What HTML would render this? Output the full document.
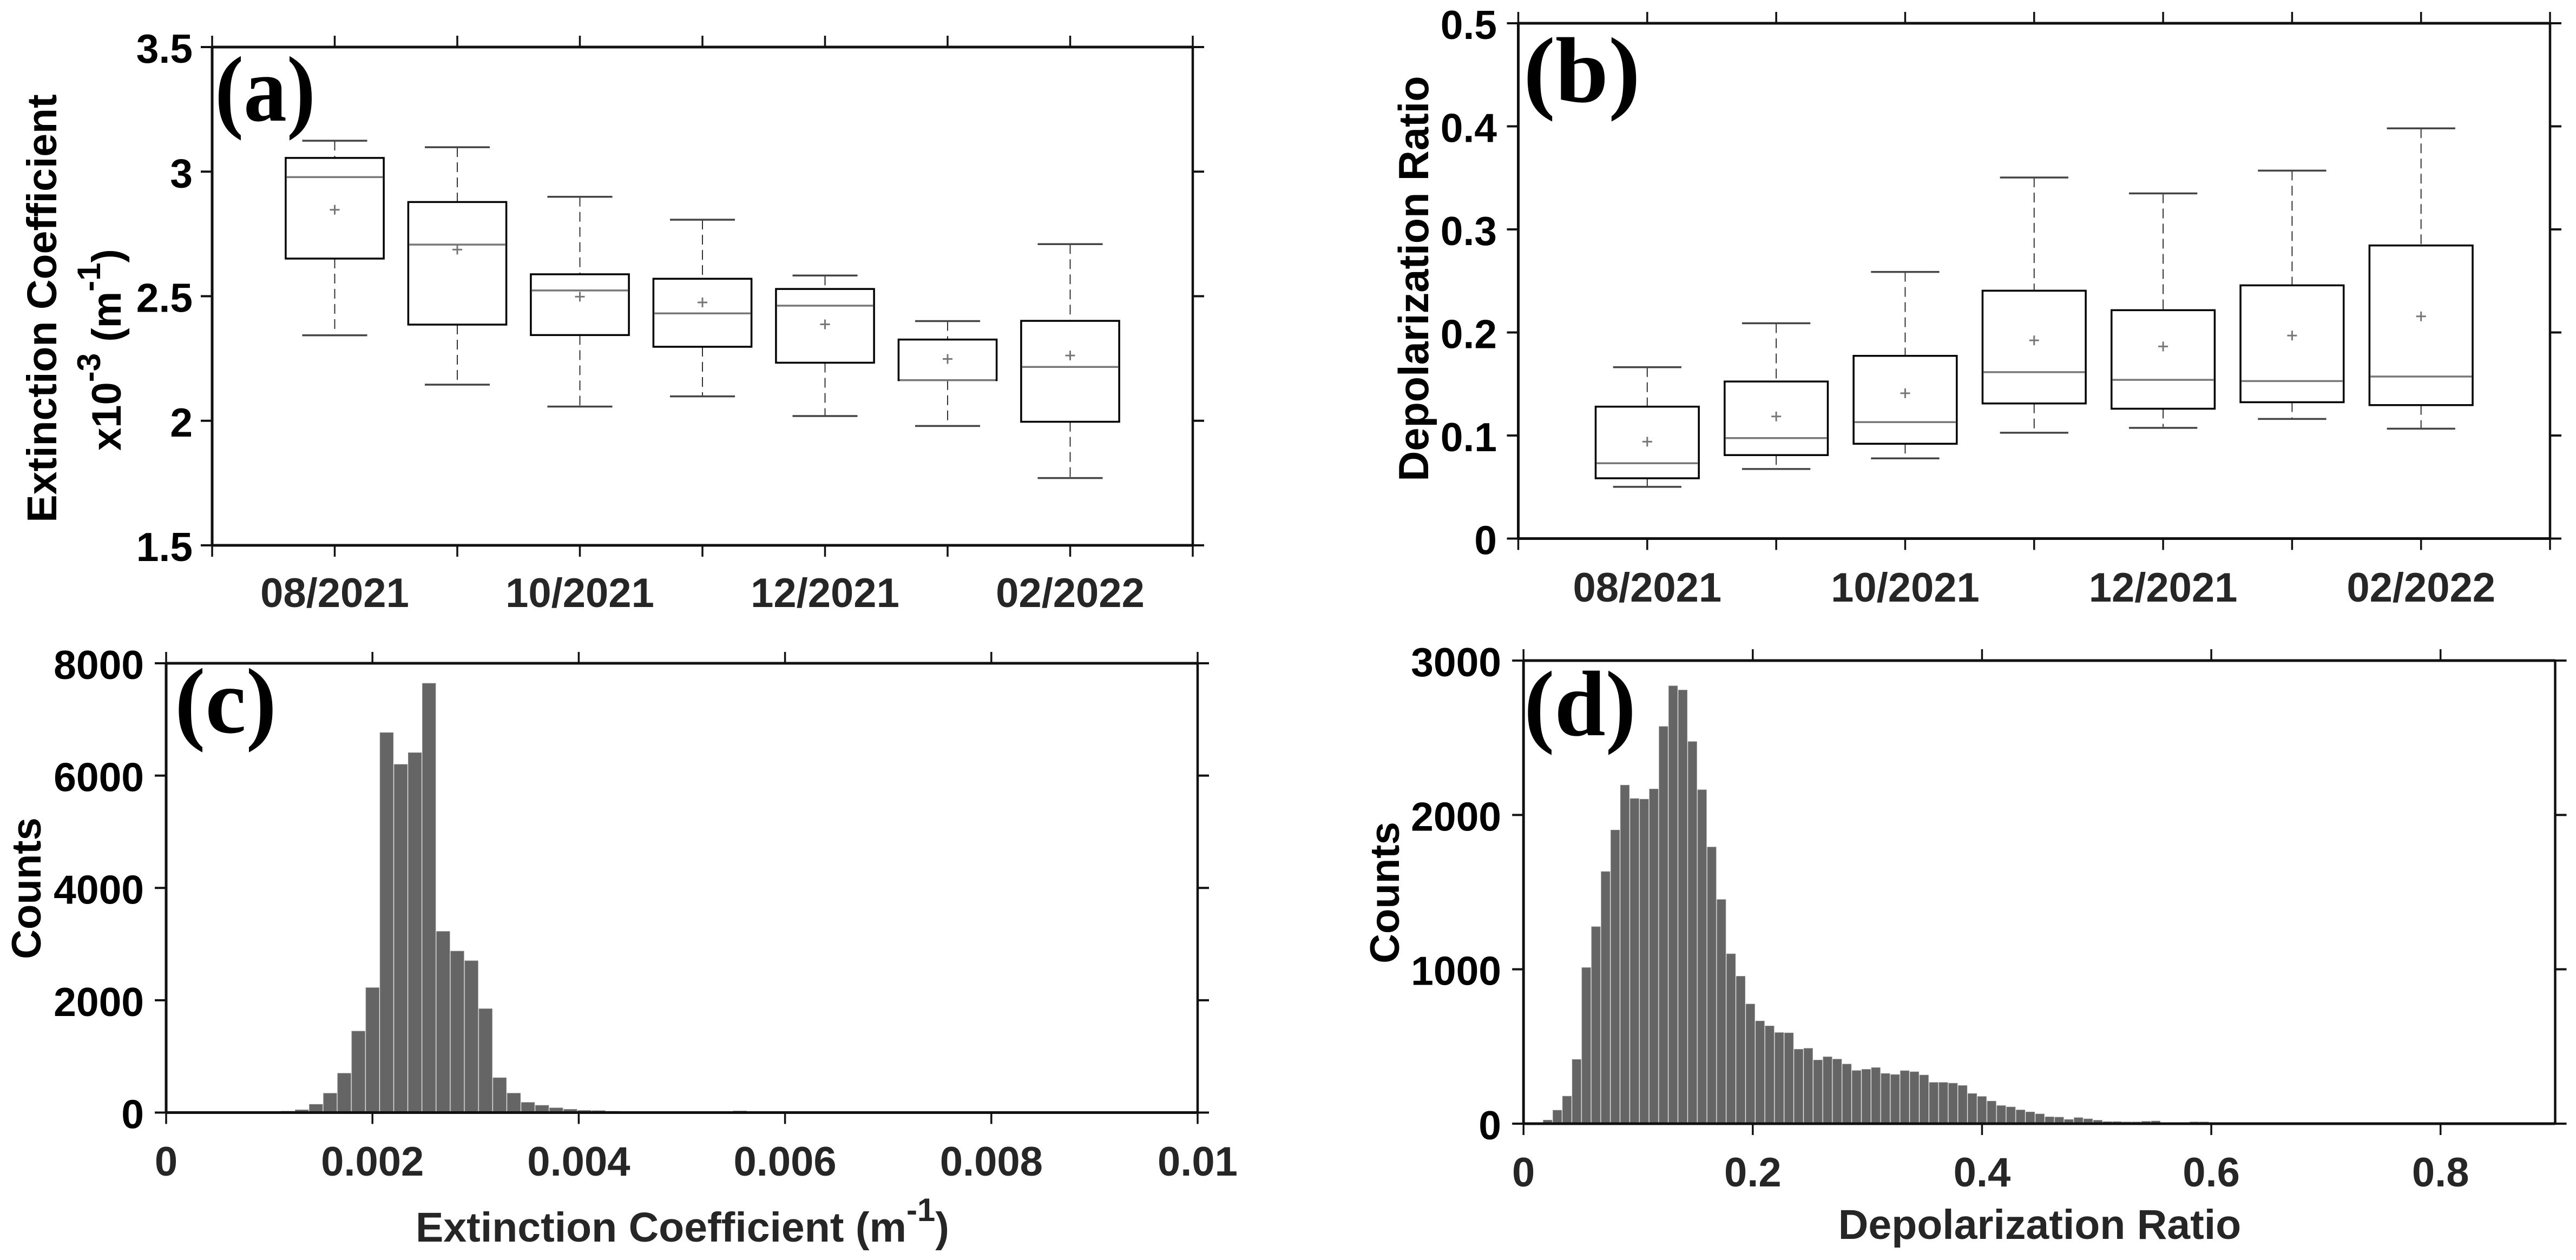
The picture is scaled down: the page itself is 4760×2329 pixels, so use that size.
<!DOCTYPE html>
<html lang="en">
<head>
<meta charset="utf-8">
<title>Extinction coefficient and depolarization ratio</title>
<style>
html,body{margin:0;padding:0;background:#fff;width:4760px;height:2329px;overflow:hidden}
svg{display:block}
text{font-family:"Liberation Sans",Arial,sans-serif;font-weight:700}
</style>
</head>
<body>
<svg id="figure" xmlns="http://www.w3.org/2000/svg" width="4760" height="2329" viewBox="0 0 4760 2329"></svg>
<script>
// Shared monthly categories and tick labels
const monthTicks = [0,1,2,3,4,5,6,7,8];
const monthLabels = ["","08/2021","","10/2021","","12/2021","","02/2022",""];

// Panel (a) extinction coefficient box plot
const aUpperCap = [3.124,3.098,2.899,2.807,2.583,2.400,2.709];
const aQ3       = [3.055,2.878,2.588,2.570,2.529,2.326,2.401];
const aMedian   = [2.978,2.707,2.523,2.431,2.462,2.163,2.216];
const aMean     = [2.847,2.687,2.498,2.475,2.387,2.248,2.262];
const aQ1       = [2.651,2.386,2.344,2.297,2.233,2.163,1.996];
const aLowerCap = [2.343,2.145,2.057,2.098,2.019,1.979,1.770];
const aYTicks   = [1.5,2,2.5,3,3.5];
const aYLabels  = ["1.5","2","2.5","3","3.5"];

// Panel (b) depolarization ratio box plot
const bUpperCap = [0.1663,0.2089,0.2587,0.3503,0.3349,0.3570,0.3980];
const bQ3       = [0.1280,0.1524,0.1773,0.2405,0.2216,0.2457,0.2844];
const bMedian   = [0.0731,0.0975,0.1130,0.1615,0.1540,0.1528,0.1572];
const bMean     = [0.0940,0.1185,0.1410,0.1923,0.1864,0.1970,0.2156];
const bQ1       = [0.0585,0.0810,0.0920,0.1311,0.1260,0.1323,0.1295];
const bLowerCap = [0.0502,0.0675,0.0778,0.1027,0.1074,0.1161,0.1066];
const bYTicks   = [0,0.1,0.2,0.3,0.4,0.5];
const bYLabels  = ["0","0.1","0.2","0.3","0.4","0.5"];

// Panel (c) extinction coefficient histogram
const cBinStart = 0.000014;
const cBinWidth = 0.000137;
const cCounts = [0,0,0,0,2,4,6,12,25,49,147,344,700,1450,2224,6765,6200,6408,7643,3226,2875,2703,1849,620,345,181,129,84,58,39,35,23,10,13,19,19,10,16,16,16,29,15,6,4,4,3,4,3,3,4,3,3,2,3,3,2,3,2,2,3,2,2,2,2,3,2,2,2,2,2,2,2];
const cXTicks = [0,0.002,0.004,0.006,0.008,0.01];
const cXLabels = ["0","0.002","0.004","0.006","0.008","0.01"];
const cYTicks = [0,2000,4000,6000,8000];
const cYLabels = ["0","2000","4000","6000","8000"];

// Panel (d) depolarization ratio histogram
const dBinStart = 0;
const dBinWidth = 0.00842;
const dCounts = [2,6,23,87,178,416,1011,1276,1633,1902,2193,2106,2102,2168,2573,2836,2809,2475,2163,1792,1452,1100,955,775,665,633,590,588,482,488,412,433,418,386,344,352,363,325,318,343,336,315,267,267,262,247,195,176,146,117,108,89,76,63,44,42,27,39,31,22,13,13,11,11,15,17,7,6,6,11,11,7,6,6,7,5,4,3,5,3,3,4,3,2,3,3,2,2,2,1,2,2,1,2,1,1,2,1,1,1,1,1,1,1];
const dXTicks = [0,0.2,0.4,0.6,0.8];
const dXLabels = ["0","0.2","0.4","0.6","0.8"];
const dYTicks = [0,1000,2000,3000];
const dYLabels = ["0","1000","2000","3000"];

const NS = "http://www.w3.org/2000/svg";
const fig = document.getElementById("figure");

function make(tag, attrs, parent){
  const node = document.createElementNS(NS, tag);
  for (const k in attrs) node.setAttribute(k, attrs[k]);
  (parent || fig).appendChild(node);
  return node;
}
function scale(d0, d1, r0, r1){
  return function(v){ return r0 + (v - d0) / (d1 - d0) * (r1 - r0); };
}

function drawFrame(g, box, xs, ys, xVals, xLabs, yVals, yLabs, xBase, yRight){
  const lines = [
    [box.l, box.t, box.r, box.t, 5, "top-axis-line"],
    [box.l, box.b, box.r, box.b, 5, "bottom-axis-line"],
    [box.l, box.t, box.l, box.b, 5, "left-axis-line"],
    [box.r, box.t, box.r, box.b, 4.5, "right-axis-line"]
  ];
  lines.forEach(function(a){
    const ln = make("line", {x1:a[0],y1:a[1],x2:a[2],y2:a[3],stroke:"#111","stroke-width":a[4]}, g);
    
    
  });
  xVals.forEach(function(v, i){
    const x = xs(v);
    const top = make("line", {x1:x,y1:box.t-21,x2:x,y2:box.t,stroke:"#111","stroke-width":3.5}, g);
    
    
    const bot = make("line", {x1:x,y1:box.b,x2:x,y2:box.b+21,stroke:"#111","stroke-width":3.5}, g);
    
    
    if (xLabs[i]) {
      const t = make("text", {x:x,y:xBase,"font-size":76,"text-anchor":"middle",fill:"#262626"}, g);
      t.textContent = xLabs[i];
      
      
    }
  });
  yVals.forEach(function(v, i){
    const y = ys(v);
    const lt = make("line", {x1:box.l-21,y1:y,x2:box.l,y2:y,stroke:"#111","stroke-width":4}, g);
    
    
    const rt = make("line", {x1:box.r,y1:y,x2:box.r+21,y2:y,stroke:"#111","stroke-width":4}, g);
    
    
    const t = make("text", {x:yRight,y:y+29,"font-size":75,"text-anchor":"end",fill:"#000"}, g);
    t.textContent = yLabs[i];
    
    
  });
}

function drawBoxes(g, xs, ys, up, q3, med, mean, q1, low){
  const halfBox = (xs(1) - xs(0)) * 0.4;
  const halfCap = (xs(1) - xs(0)) * 0.265;
  up.forEach(function(_, i){
    const x = xs(i + 1);
    const series = make("g", {}, g);
    
    
    const w1 = make("line", {x1:x,y1:ys(up[i]),x2:x,y2:ys(q3[i]),stroke:"#333","stroke-width":2,"stroke-dasharray":"18 10"}, series);
    
    
    const w2 = make("line", {x1:x,y1:ys(q1[i]),x2:x,y2:ys(low[i]),stroke:"#333","stroke-width":2,"stroke-dasharray":"18 10"}, series);
    
    
    const c1 = make("line", {x1:x-halfCap,y1:ys(up[i]),x2:x+halfCap,y2:ys(up[i]),stroke:"#444","stroke-width":3.5}, series);
    
    
    const c2 = make("line", {x1:x-halfCap,y1:ys(low[i]),x2:x+halfCap,y2:ys(low[i]),stroke:"#444","stroke-width":3.5}, series);
    
    
    const r = make("rect", {x:x-halfBox,y:ys(q3[i]),width:halfBox*2,height:ys(q1[i])-ys(q3[i]),fill:"#fff",stroke:"#000","stroke-width":3.5}, series);
    
    
    const m = make("line", {x1:x-halfBox+2,y1:ys(med[i]),x2:x+halfBox-2,y2:ys(med[i]),stroke:"#777","stroke-width":3.5}, series);
    
    
    const py = ys(mean[i]);
    const p1 = make("line", {x1:x-9,y1:py,x2:x+9,y2:py,stroke:"#777","stroke-width":3}, series);
    
    
    const p2 = make("line", {x1:x,y1:py-9,x2:x,y2:py+9,stroke:"#777","stroke-width":3}, series);
    
    
  });
}
function monthSeriesName(i){
  return "month-" + (i + 1);
}

function drawHist(g, xs, ys, counts, start, width){
  counts.forEach(function(c, i){
    const x0 = xs(start + i * width);
    const x1 = xs(start + (i + 1) * width);
    const y = ys(c);
    const r = make("rect", {x:x0+0.8,y:y,width:x1-x0-1.6,height:ys(0)-y,fill:"#656565",stroke:"#8a8a8a","stroke-width":0.8}, g);
    
    
  });
}

function panelLabel(g, str, x, y, len){
  const t = make("text", {x:x,y:y,"font-size":172,textLength:len,lengthAdjust:"spacingAndGlyphs",fill:"#000",style:"font-family:'Liberation Serif','Times New Roman',serif;font-weight:700"}, g);
  t.textContent = str;
  
  
}

function rotatedTitle(g, str, x, y, size, name){
  const t = make("text", {x:0,y:0,transform:"translate("+x+","+y+") rotate(-90)","font-size":size,"text-anchor":"middle",fill:"#000"}, g);
  t.textContent = str;
  
  
  return t;
}

function tspan(parent, str, size, dy){
  const s = make("tspan", {"font-size":size,dy:dy}, parent);
  s.textContent = str;
  
  
  return s;
}

/* Panel a */
(function(){
  const box = {l:392,r:2204,t:87,b:1008};
  const g = make("g", {});
  
  
  const xs = scale(0, 8, box.l, box.r);
  const ys = scale(1.5, 3.5, box.b, box.t);
  drawBoxes(g, xs, ys, aUpperCap, aQ3, aMedian, aMean, aQ1, aLowerCap);
  drawFrame(g, box, xs, ys, monthTicks, monthLabels, aYTicks, aYLabels, 1122, 356);
  panelLabel(g, "(a)", 397, 223, 186);
  rotatedTitle(g, "Extinction Coefficient", 104, 570, 77, "y-axis-title");
  const t = make("text", {transform:"translate(223,833) rotate(-90)",x:0,y:0,"font-size":76,fill:"#000"}, g);
  
  
  tspan(t, "x10", 76, 0);
  tspan(t, "-3", 60, -38);
  tspan(t, " (m", 76, 38);
  tspan(t, "-1", 60, -38);
  tspan(t, ")", 76, 38);
})();

/* Panel b */
(function(){
  const box = {l:2805.5,r:4712,t:43,b:995.5};
  const g = make("g", {});
  
  
  const xs = scale(0, 8, box.l, box.r);
  const ys = scale(0, 0.5, box.b, box.t);
  drawBoxes(g, xs, ys, bUpperCap, bQ3, bMedian, bMean, bQ1, bLowerCap);
  drawFrame(g, box, xs, ys, monthTicks, monthLabels, bYTicks, bYLabels, 1112, 2766);
  panelLabel(g, "(b)", 2815, 188, 216);
  rotatedTitle(g, "Depolarization Ratio", 2639, 515, 77.5, "y-axis-title");
})();

/* Panel c */
(function(){
  const box = {l:307,r:2213,t:1226,b:2056.5};
  const g = make("g", {});
  
  
  const xs = scale(0, 0.01, box.l, box.r);
  const ys = scale(0, 8000, box.b, box.t);
  drawHist(g, xs, ys, cCounts, cBinStart, cBinWidth);
  drawFrame(g, box, xs, ys, cXTicks, cXLabels, cYTicks, cYLabels, 2173, 266);
  panelLabel(g, "(c)", 323, 1354, 188);
  rotatedTitle(g, "Counts", 75, 1642, 76, "y-axis-title");
  const t = make("text", {x:768,y:2295,"font-size":77,fill:"#262626"}, g);
  
  
  tspan(t, "Extinction Coefficient (m", 77, 0);
  tspan(t, "-1", 60, -38);
  tspan(t, ")", 77, 38);
})();

/* Panel d */
(function(){
  const box = {l:2815.2,r:4721.5,t:1221,b:2077};
  const g = make("g", {});
  
  
  const xs = scale(0, 0.9, box.l, box.r);
  const ys = scale(0, 3000, box.b, box.t);
  drawHist(g, xs, ys, dCounts, dBinStart, dBinWidth);
  drawFrame(g, box, xs, ys, dXTicks, dXLabels, dYTicks, dYLabels, 2193, 2774);
  panelLabel(g, "(d)", 2816, 1359, 207);
  rotatedTitle(g, "Counts", 2585, 1650, 76, "y-axis-title");
  const t = make("text", {x:3769,y:2290,"font-size":77,"text-anchor":"middle",fill:"#262626"}, g);
  t.textContent = "Depolarization Ratio";
  
  
})();
</script>
</body>
</html>
